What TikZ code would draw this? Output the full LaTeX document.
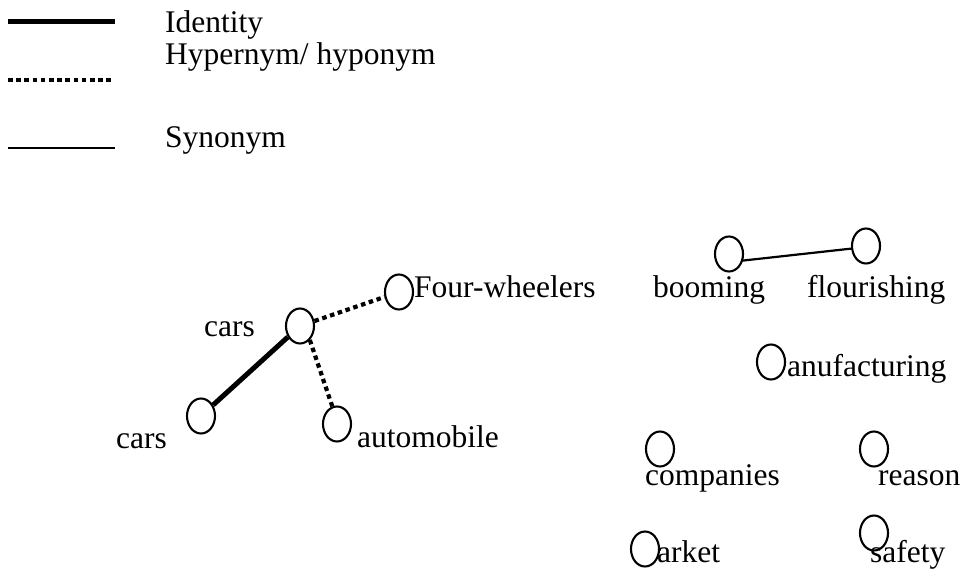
\documentclass[tikz,border=0pt]{standalone}
\usepackage{fontspec}
\setmainfont{Liberation Serif}
\usetikzlibrary{shapes.geometric}
\begin{document}
\begin{tikzpicture}[x=1pt,y=-1pt,
  word/.style={anchor=base west,inner sep=0pt,font=\fontsize{31.5}{36}\selectfont},
  vertex/.style={draw,ellipse,line width=2.1pt,minimum width=28pt,minimum height=35pt,inner sep=0pt},
  identity/.style={line width=5pt},
  hyper/.style={line width=4.2pt,dash pattern=on 4.5pt off 3.7pt},
  synonym/.style={line width=2.2pt}]
\useasboundingbox (0,0) rectangle (964,569);

% legend
\coordinate (l1a) at (8,22);  \coordinate (l1b) at (115,22);
\coordinate (l2a) at (8,80);  \coordinate (l2b) at (112,80);
\coordinate (l3a) at (8,148); \coordinate (l3b) at (115,148);
\draw[identity] (l1a) -- (l1b);
\draw[hyper] (l2a) -- (l2b);
\draw[synonym] (l3a) -- (l3b);
\node[word] (tid) at (165,33) {Identity};
\node[word] (thy) at (165,65) {Hypernym/ hyponym};
\node[word] (tsy) at (165,148) {Synonym};

% car cluster
\node[vertex] (ct) at (300,326) {};
\node[vertex] (cb) at (201,416) {};
\node[vertex] (fw) at (399,292) {};
\node[vertex] (au) at (337,424) {};
\node[word] (lct) at (204,337) {cars};
\node[word] (lcb) at (116,448) {cars};
\node[word] (lfw) at (414,298) {Four-wheelers};
\node[word] (lau) at (357,447) {automobile};
\draw[identity] (cb) -- (ct);
\draw[hyper] (ct) -- (fw);
\draw[hyper] (ct.-55) -- (au.105);

% economy cluster
\node[vertex] (bo) at (729,254) {};
\node[vertex] (fl) at (866,246) {};
\node[vertex] (ma) at (771,362) {};
\node[vertex] (co) at (660,449) {};
\node[vertex] (re) at (874,449) {};
\node[vertex] (mk) at (645,549) {};
\node[vertex] (sa) at (874,533) {};
\node[word] (lbo) at (653,298) {booming};
\node[word] (lfl) at (807,298) {flourishing};
\node[word] (lma) at (787,377) {anufacturing};
\node[word] (lco) at (645,485) {companies};
\node[word] (lre) at (878,485) {reason};
\node[word] (lmk) at (657,562) {arket};
\node[word] (lsa) at (870,562) {safety};
\draw[synonym] (bo.-25) -- (fl.190);
\end{tikzpicture}
\end{document}
